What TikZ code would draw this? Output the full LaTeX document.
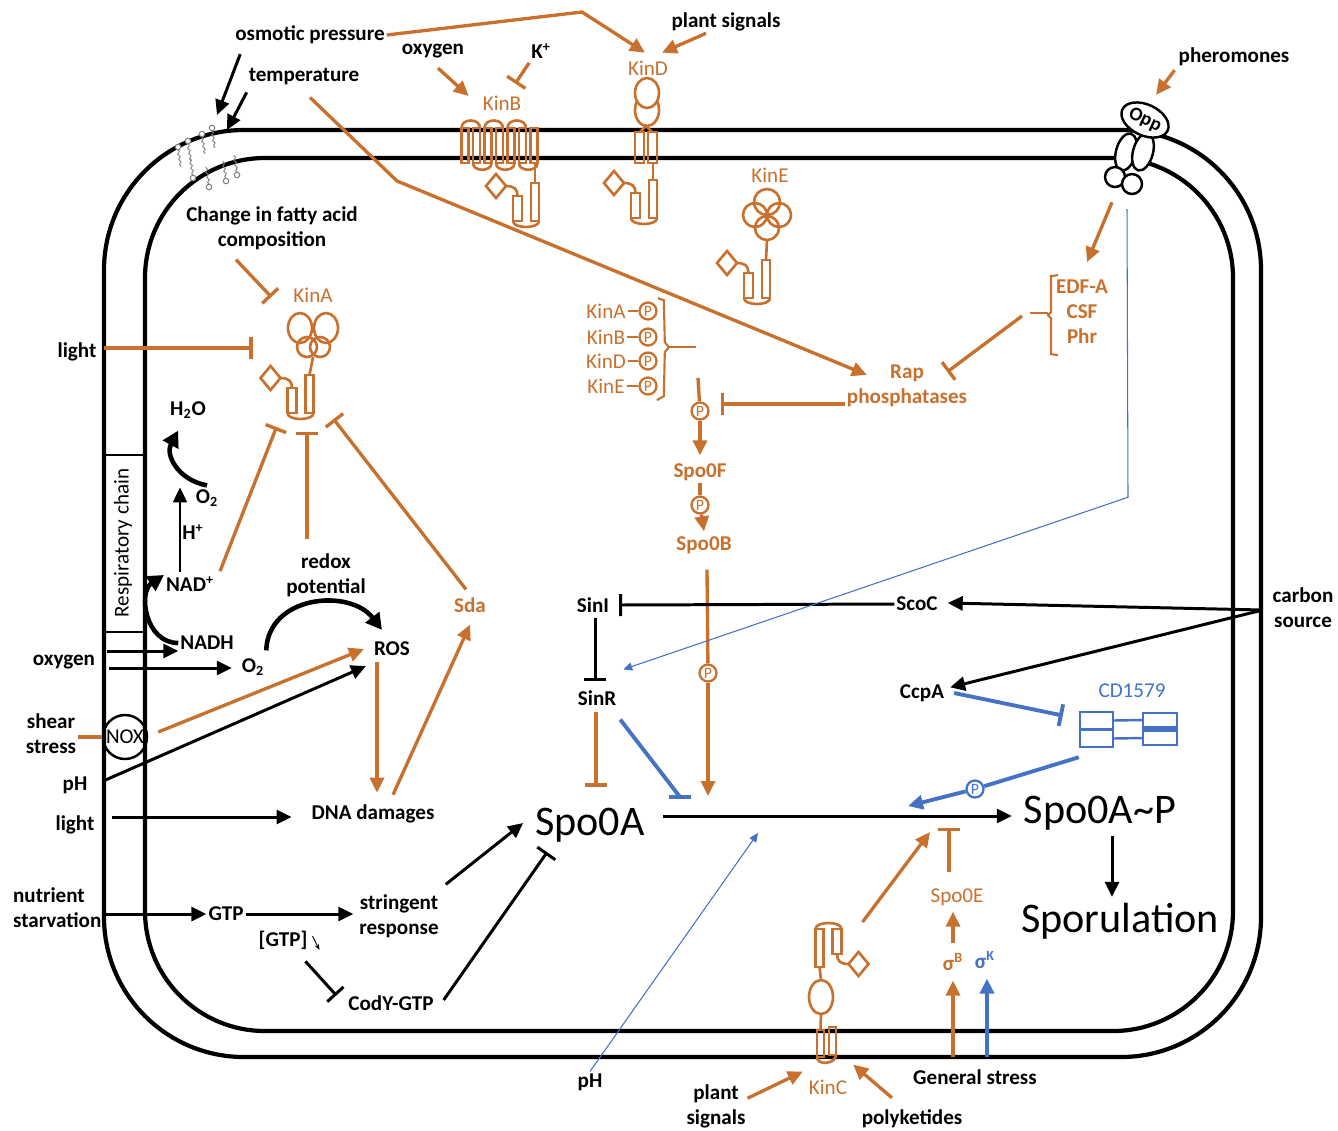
\documentclass[tikz,border=0pt]{standalone}
\usepackage{fontspec}
\setmainfont{Carlito}
\usepackage{tikz}
\usetikzlibrary{shapes,arrows.meta,positioning,calc,decorations.pathmorphing}
\definecolor{kinorange}{RGB}{200,112,45}
\definecolor{cdblue}{RGB}{68,114,196}

\tikzset{
  lbl/.style={font=\fontsize{12}{14.2}\selectfont\bfseries, inner sep=1pt, align=center},
  olbl/.style={lbl, text=kinorange},
  klbl/.style={font=\fontsize{12}{14.2}\selectfont, inner sep=1pt, text=kinorange},
  biglbl/.style={font=\fontsize{24}{28}\selectfont, inner sep=1pt},
  memb/.style={line width=2.4pt},
  barr/.style={line width=1.7pt, -{Triangle[length=3mm,width=2.8mm]}},
  oarr/.style={barr, line width=1.9pt, draw=kinorange},
  olin/.style={line width=1.9pt, draw=kinorange},
  binh/.style={line width=1.7pt, -{Bar[width=4.4mm]}},
  oinh/.style={binh, line width=1.9pt, draw=kinorange},
  blinh/.style={line width=2.2pt, draw=cdblue, -{Bar[width=4.4mm]}},
  blarr/.style={line width=2.2pt, draw=cdblue, -{Triangle[length=3mm,width=2.8mm]}},
  bthin/.style={line width=0.6pt, draw=cdblue, -{Triangle[length=1.8mm,width=1.6mm]}},
  fatarr/.style={line width=2.6pt, -{Triangle[length=3.2mm,width=3.4mm]}},
  glyph/.style={draw=kinorange, line width=1.5pt},
  pcirc/.style={circle, draw=kinorange, fill=white, line width=1.3pt, text=kinorange,
    inner sep=0pt, minimum size=0.34cm, font=\fontsize{9}{9}\selectfont},
  lipid/.style={gray, line width=0.5pt, decorate, decoration={snake, amplitude=0.6pt, segment length=3pt}},
  hkcyt/.pic={
    \draw[glyph] (-4,0) rectangle (4,38);
    \draw[glyph] (-22,13) rectangle (-13,38);
    \draw[glyph] (-22,38) .. controls (-22,46) and (4,46) .. (4,38);
    \draw[glyph] (-29,3) .. controls (-21,3) and (-17.5,6) .. (-17.5,13);
    \draw[glyph] (-39,-9) -- (-29,3) -- (-39,15) -- (-49,3) -- cycle;
  }
}

\begin{document}
\begin{tikzpicture}[x=0.02cm, y=-0.02cm]
\useasboundingbox (0,0) rectangle (1338,1130);

% cell envelope
\draw[memb, rounded corners=2.8cm] (104,130) rectangle (1261,1057);
\draw[memb, rounded corners=2.4cm] (145,158) rectangle (1233,1031);
\draw[line width=1.6pt] (104,455) -- (145,455) (104,632) -- (145,632);
\node[rotate=90, font=\fontsize{12}{14}\selectfont] (resp) at (123,543) {Respiratory chain};

% lipids
\foreach \hx/\hy in {178/147,188/141,202/134,212/128} {
  \draw[lipid] (\hx,\hy+3) -- ++(3,17);
  \draw[gray, line width=0.6pt, fill=white] (\hx,\hy) circle (0.055cm);
}
\foreach \hx/\hy in {193/178,209/187,226/181,237/175} {
  \draw[lipid] (\hx,\hy-3) -- ++(-3,-17);
  \draw[gray, line width=0.6pt, fill=white] (\hx,\hy) circle (0.055cm);
}

% KinB
\foreach \i in {0,...,6} \draw[glyph] (461.5+11.5*\i,128) rectangle ++(7,35);
\foreach \i in {0,2,4} \draw[glyph] (461.5+11.5*\i,128) .. controls (461.5+11.5*\i,118) and (480+11.5*\i,118) .. (480+11.5*\i,128);
\foreach \i in {1,3,5} \draw[glyph] (461.5+11.5*\i,163) .. controls (461.5+11.5*\i,172) and (480+11.5*\i,172) .. (480+11.5*\i,163);
\draw[glyph] (535,163) -- (535,183);
\pic at (535,183) {hkcyt};

% KinD
\draw[glyph] (647,110) ellipse [x radius=0.24cm, y radius=0.32cm];
\draw[glyph, fill=white] (647,93) ellipse [x radius=0.24cm, y radius=0.3cm];
\draw[glyph] (635,132) rectangle (644,163);
\draw[glyph] (648,132) rectangle (657,163);
\draw[glyph] (640,132) -- (646,126) -- (652,132);
\draw[glyph] (653,163) -- (653,180);
\pic at (653,180) {hkcyt};

% KinE
\draw[glyph] (767,202) circle (0.26cm);
\draw[glyph] (755,215) circle (0.24cm);
\draw[glyph] (779,215) circle (0.24cm);
\draw[glyph] (767,228) circle (0.24cm);
\draw[glyph] (767,240) -- (766,260);
\pic at (766,260) {hkcyt};

% KinA
\coordinate (kA) at (309.5,375);
\draw[glyph] (307,347) circle (0.2cm);
\draw[glyph] (320,347) circle (0.2cm);
\draw[glyph] (300,328) ellipse [x radius=0.24cm, y radius=0.3cm];
\draw[glyph] (326,328) ellipse [x radius=0.24cm, y radius=0.3cm];
\draw[glyph] (313,357) -- (kA);
\pic at (kA) {hkcyt};

% KinC
\coordinate (kC) at (819.5,967);
\pic[rotate=180] at (kC) {hkcyt};
\draw[glyph] (kC) -- (821,980);
\draw[glyph] (821,997) ellipse [x radius=0.24cm, y radius=0.34cm];
\draw[glyph] (821,1014) -- (820.5,1030);
\draw[glyph] (817,1030) rectangle (824,1057);
\draw[glyph] (829,1027) rectangle (836,1055);
\draw[glyph] (817,1057) .. controls (817,1066) and (836,1064) .. (836,1055);

% Opp
\draw[line width=1.4pt, fill=white, rotate around={-15:(1126,152)}] (1126,152) ellipse [x radius=0.2cm, y radius=0.38cm];
\draw[line width=1.4pt, fill=white, rotate around={-15:(1143,152)}] (1143,152) ellipse [x radius=0.2cm, y radius=0.38cm];
\node[circle, draw, fill=white, line width=1.4pt, minimum size=0.4cm, inner sep=0pt] (oppc1) at (1115,177) {};
\node[circle, draw, fill=white, line width=1.4pt, minimum size=0.4cm, inner sep=0pt] (oppc2) at (1132,184) {};
\node[ellipse, draw, fill=white, line width=1.4pt, rotate=-25, minimum width=1cm, minimum height=0.62cm,
  inner sep=0pt, font=\fontsize{11}{13}\selectfont\bfseries] (opp) at (1145,120) {Opp};

% CD1579
\node[draw=cdblue, line width=1.4pt, minimum width=0.66cm, minimum height=0.7cm, inner sep=0pt] (cdl) at (1096.5,729.5) {};
\node[draw=cdblue, line width=1.4pt, minimum width=0.68cm, minimum height=0.64cm, inner sep=0pt] (cdr) at (1160,729) {};
\draw[cdblue, line width=1.4pt] (cdl.west) -- (cdl.east);
\draw[cdblue, line width=3pt] (cdr.west) -- (cdr.east);
\draw[cdblue, line width=1.4pt] ($(cdl.east)+(0,-9)$) -- ($(cdr.west)+(0,-9)$);
\draw[cdblue, line width=1.4pt] ($(cdl.east)+(0,9)$) -- ($(cdr.west)+(0,9)$);
\node[font=\fontsize{12}{14}\selectfont, text=cdblue, inner sep=1pt] (cd) at (1132,691) {CD1579};

% labels
\node[lbl] (osm) at (310,35) {osmotic pressure};
\node[lbl] (temp) at (304,77) {temperature};
\node[lbl] (oxyB) at (433,51) {oxygen};
\node[lbl] (kplus) at (541,51) {K\textsuperscript{+}};
\node[klbl] (kinB) at (502,103) {KinB};
\node[lbl] (plantD) at (726,22) {plant signals};
\node[klbl] (kinD) at (648,68) {KinD};
\node[klbl] (kinE) at (770,175) {KinE};
\node[lbl] (pher) at (1234,57) {pheromones};
\node[olbl] (edf) at (1082,312) {EDF-A\\CSF\\Phr};
\node[lbl] (fatty) at (272,228) {Change in fatty acid\\composition};
\node[klbl] (kinA) at (313,295) {KinA};
\node[lbl] (lightA) at (77,352) {light};
\node[olbl] (rap) at (907,386) {Rap\\phosphatases};

\node[klbl] (kinPa) at (606,311) {KinA};
\node[klbl] (kinPb) at (606,337) {KinB};
\node[klbl] (kinPd) at (606,361) {KinD};
\node[klbl] (kinPe) at (606,386) {KinE};
\node[pcirc] (pa) at (648,311) {P};
\node[pcirc] (pb) at (648,337) {P};
\node[pcirc] (pd) at (648,361) {P};
\node[pcirc] (pe) at (648,386) {P};
\node[pcirc] (pF1) at (700,411) {P};
\node[olbl] (spo0f) at (700,472) {Spo0F};
\node[pcirc] (pF2) at (700,505) {P};
\node[olbl] (spo0b) at (704,545) {Spo0B};
\node[pcirc] (pF3) at (708,673) {P};

\node[lbl] (h2o) at (188,410) {H\textsubscript{2}O};
\node[lbl] (o2a) at (207,498) {O\textsubscript{2}};
\node[lbl] (hplus) at (193,532) {H\textsuperscript{+}};
\node[lbl] (nadp) at (190,584) {NAD\textsuperscript{+}};
\node[lbl] (nadh) at (207,643) {NADH};
\node[lbl] (o2b) at (253,667) {O\textsubscript{2}};
\node[lbl] (redox) at (326,575) {redox\\potential};
\node[lbl] (ros) at (392,649) {ROS};
\node[olbl] (sda) at (470,605) {Sda};
\node[lbl] (oxyL) at (64,662) {oxygen};
\node[lbl] (shear) at (51,734) {shear\\stress};
\node[draw, circle, line width=1.4pt, minimum size=0.88cm, inner sep=0pt, font=\fontsize{12}{14}\selectfont] (nox) at (125,737) {NOX};
\node[lbl] (phL) at (75,785) {pH};
\node[lbl] (lightL) at (75,825) {light};
\node[lbl] (dna) at (373,814) {DNA damages};
\node[lbl, align=left, anchor=west] (nutr) at (11,908) {nutrient\\starvation};
\node[lbl] (gtp) at (226,914) {GTP};
\node[lbl] (string) at (399,916) {stringent\\response};
\node[lbl] (gtpc) at (283,940) {[GTP]};
\node[lbl] (cody) at (391,1003) {CodY-GTP};

\node[lbl] (sinI) at (593,605) {SinI};
\node[lbl] (sinR) at (597,698) {SinR};
\node[lbl] (scoC) at (917,604) {ScoC};
\node[lbl] (ccpA) at (922,693) {CcpA};
\node[lbl] (carbon) at (1303,608) {carbon\\source};
\node[biglbl] (spo0a) at (590,825) {Spo0A};
\node[biglbl] (spo0ap) at (1100,813) {Spo0A\textasciitilde P};
\node[biglbl] (spor) at (1120,921) {Sporulation};
\node[klbl] (spo0e) at (957,897) {Spo0E};
\node[olbl] (sigB) at (953,962) {σ\textsuperscript{B}};
\node[lbl, text=cdblue] (sigK) at (985,960) {σ\textsuperscript{K}};
\node[pcirc, draw=cdblue, text=cdblue] (pB) at (975,789) {P};
\node[klbl] (kinC) at (828,1087) {KinC};
\node[lbl] (plantC) at (716,1106) {plant\\signals};
\node[lbl] (poly) at (912,1119) {polyketides};
\node[lbl] (gen) at (975,1077) {General stress};
\node[lbl] (phB) at (590,1082) {pH};

% free ends
\coordinate (bendD) at (582,12);
\coordinate (bendR) at (397,181);
\coordinate (lipA) at (217,115);
\coordinate (lipB) at (227,130);
\coordinate (kinsum) at (698,378);
\coordinate (hitA) at (708,796);
\coordinate (hitS) at (680,797);
\coordinate (hitP) at (758,833);
\coordinate (hitB) at (908,806);
\coordinate (hitC) at (930,832);
\coordinate (hitE) at (949,828);

% top signals
\draw[oarr] (osm.east) -- (bendD) -- ($(kinD.north)+(-3,-6)$);
\draw[oarr] ($(plantD.south)+(-20,0)$) -- ($(kinD.north)+(14,-6)$);
\draw[oarr] ($(oxyB.south)+(5,8)$) -- ($(kinB.west)+(-12,-7)$);
\draw[oinh] ($(kplus.south west)+(0,2)$) -- ($(kinB.north east)+(-8,-10)$);
\draw[barr] ($(osm.south west)+(7,8)$) -- (lipA);
\draw[barr] ($(temp.south west)+(0,5)$) -- (lipB);
\draw[oarr] ($(temp.south)+(6,10)$) -- (bendR) -- ($(rap.north west)+(22,12)$);
\draw[oarr] ($(pher.south west)+(-2,2)$) -- ($(opp.north)+(4,-10)$);
\draw[oarr] ($(oppc1.south)+(-3,14)$) -- ($(edf.north)+(5,-16)$);
\draw[glyph, line width=1.2pt] ($(edf.north west)+(4,-3)$) -- ++(-7,1) -- ++(0,36) -- ++(-3,3) -- ++(3,3) -- ++(0,36) -- ++(7,1);
\draw[glyph, line width=1.2pt] ($(edf.west)+(-6,1)$) -- ++(-18,0);
\draw[oinh] ($(edf.west)+(-32,4)$) -- ($(rap.north east)+(-22,9)$);

% phosphorelay
\foreach \k in {a,b,d,e} \draw[glyph] (kinP\k.east) -- (p\k);
\draw[glyph, line width=1.2pt] ($(pa.north east)+(3,-6)$) -- ++(6,2) -- ++(1,42) -- ++(4,5) -- ++(-4,5) -- ++(-1,44) -- ++(-7,4);
\draw[glyph, line width=1.2pt] ($(pa.north east)+(14,43)$) -- ++(27,0);
\draw[olin] (kinsum) -- (pF1);
\draw[oarr] (pF1) -- ($(spo0f.north)+(0,-6)$);
\coordinate (rapout) at ($(rap.west)+(0,18)$);
\draw[oinh] (rapout) -- ($(rapout -| pF1.east)+(11,0)$);
\draw[olin] (spo0f.south) -- (pF2);
\draw[oarr] (pF2) -- ($(spo0b.north)+(0,-3)$);
\draw[olin] ($(spo0b.south)+(3,14)$) -- (pF3);
\draw[oarr] (pF3) -- (hitA);

% KinA inputs
\coordinate (lbar) at ($(kA)+(-57,-27)$);
\draw[oinh] ($(lightA.east |- lbar)+(6,0)$) -- (lbar);
\draw[oinh] ($(fatty.south)+(-36,8)$) -- ($(kinA.west)+(-20,2)$);
\draw[oinh] ($(nadp.north east)+(4,-3)$) -- ($(kA)+(-33,52)$);
\draw[oinh] ($(redox.north)+(-19,-12)$) -- ($(kA)+(-2.5,57)$);
\draw[oinh] ($(sda.north)+(-4,-6)$) -- ($(kA)+(24,44)$);

% respiration and ROS
\draw[fatarr] (nadh.west) .. controls (145,643) and (138,592) .. ($(nadp.west)+(0,-9)$);
\draw[fatarr] ($(o2a.north)+(0,-2)$) .. controls (178,480) and (165,455) .. ($(h2o.south west)+(10,10)$);
\draw[barr, line width=1.2pt] ($(nadp.north)+(-10,-2)$) -- ($(o2a.north)+(-27,0)$);
\draw[fatarr] ($(o2b.north east)+(0,-6)$) .. controls (268,595) and (350,588) .. ($(ros.north west)+(10,-10)$);
\draw[barr] ($(oxyL.east)+(10,-11)$) -- ($(oxyL.east -| nadh.west)+(0,-11)$);
\draw[barr] ($(oxyL.east)+(12,6)$) -- ($(oxyL.east -| o2b.west)+(-8,6)$);
\draw[olin] (shear.east |- nox.west) -- (nox.west);
\draw[oarr] ($(nox.east)+(10,-5)$) -- ($(ros.west)+(-8,0)$);
\draw[barr] ($(phL.east)+(16,-5)$) -- ($(ros.south west)+(-6,8)$);
\draw[barr] ($(lightL.east |- dna.west)+(16,3)$) -- ($(dna.west)+(-18,3)$);
\draw[oarr] ($(ros.south)+(-15,4)$) -- ($(ros.south |- dna.north)+(-15,-10)$);
\draw[oarr] ($(dna.north)+(20,-8)$) -- ($(sda.south)+(0,10)$);

% nutrients
\draw[barr] (nutr.east |- gtp.west) -- (gtp.west);
\draw[barr] (gtp.east) -- ($(gtp.east -| string.west)+(-4,0)$);
\draw[line width=0.5pt, -{Stealth[length=1.2mm]}] ($(gtpc.east)+(3,-4)$) -- ++(7,14);
\draw[binh] ($(gtpc.south east)+(-4,10)$) -- ($(cody.north west)+(-10,2)$);
\draw[barr] ($(string.north east)+(5,-8)$) -- ($(spo0a.west)+(-10,-2)$);
\draw[binh] ($(cody.east)+(8,-3)$) -- ($(spo0a.south west)+(14,8)$);

% Sin and carbon source
\draw[binh] (scoC.west) -- ($(sinI.east)+(8,0)$);
\draw[binh] ($(sinI.south)+(2,3)$) -- ($(sinI.south |- sinR.north)+(2,-7)$);
\draw[oinh] ($(sinR.south)+(-1,4)$) -- ($(sinR.south |- spo0a.north)+(-1,-19)$);
\draw[cdblue, line width=2.2pt] ($(sinR.south east)+(2,12)$) -- (hitS);
\draw[cdblue, line width=2.2pt] ($(hitS)+(-11,0)$) -- ($(hitS)+(11,0)$);
\draw[bthin] ($(oppc2.south)+(-5,14)$) -- ++(1,288) -- ($(sinR.north east)+(5,-19)$);
\draw[barr] ($(carbon.west)+(-8,2)$) -- ($(scoC.east)+(8,-1)$);
\draw[barr] ($(carbon.west)+(-8,2)$) -- ($(ccpA.north east)+(4,5)$);
\draw[blinh] ($(ccpA.east)+(8,0)$) -- ($(cdl.west)+(-16,-14)$);
\draw[cdblue, line width=2.2pt] ($(cdl.south west)+(0,9)$) -- (pB);
\draw[blarr] (pB) -- (hitB);
\draw[bthin] (phB.north) -- (hitP);

% Spo0A
\coordinate (mainL) at ($(spo0a.east)+(16,-9)$);
\draw[barr] (mainL) -- ($(mainL -| spo0ap.west)+(-10,0)$);
\draw[barr] ($(spo0ap.south)+(12,4)$) -- ($(spor.north)+(-8,-4)$);
\draw[oinh] ($(spo0e.north -| hitE)+(0,-14)$) -- (hitE);
\draw[oarr] ($(sigB.north)+(0,-8)$) -- ($(spo0e.south)+(-4,4)$);
\draw[oarr] ($(sigB.south |- gen.north)+(0,-10)$) -- ($(sigB.south)+(0,8)$);
\draw[blarr] ($(sigK.south |- gen.north)+(2,-10)$) -- ($(sigK.south)+(2,8)$);
\draw[oarr] ($(kC)+(43,-45)$) -- (hitC);
\draw[oarr] ($(plantC.north east)+(0,16)$) -- ($(kinC.north west)+(-4,-6)$);
\draw[oarr] ($(poly.north)+(-20,-10)$) -- ($(kinC.north east)+(4,-13)$);
\end{tikzpicture}
\end{document}
